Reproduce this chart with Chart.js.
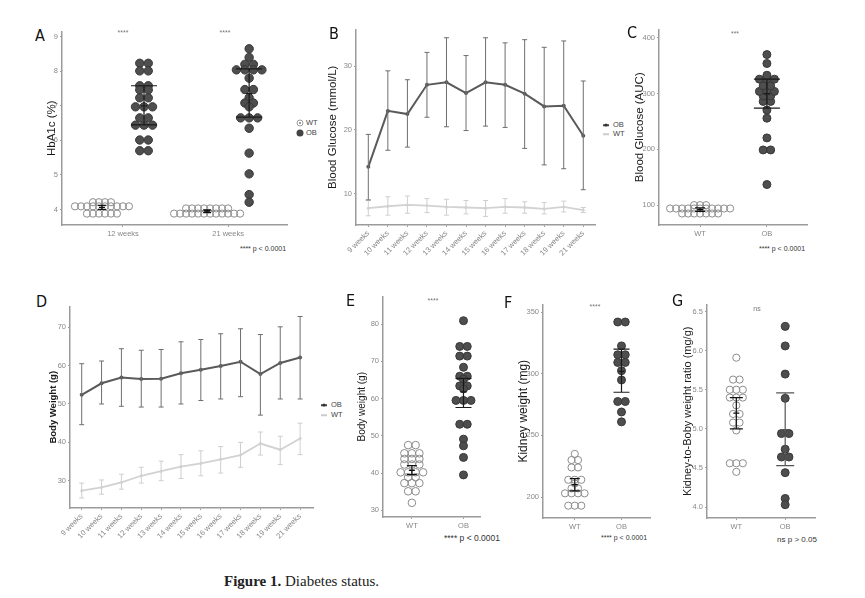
<!DOCTYPE html>
<html>
<head>
<meta charset="utf-8">
<title>Figure 1. Diabetes status</title>
<script src="https://cdn.jsdelivr.net/npm/chart.js@4.4.1/dist/chart.umd.min.js"></script>
<style>
  body { margin: 0; background: #fff; }
  #fig { position: relative; width: 865px; height: 598px; overflow: hidden; background: #fff;
         font-family: "Liberation Sans", Arial, sans-serif; }
  #fig canvas { position: absolute; }
  .txt { position: absolute; white-space: nowrap; line-height: 1; }
  .mid { transform: translate(-50%, -50%); }
  .letter { font-family: "DejaVu Sans Condensed", "DejaVu Sans", sans-serif; font-size: 16px; color: #111; }
  .stars { font-size: 7px; color: #777; }
  .pval { color: #333; }
  .key { font-size: 7.5px; color: #444; transform: translateY(-50%); }
  .sym { position: absolute; transform: translate(-50%, -50%); }
  .caption { font-family: "Liberation Serif", "Times New Roman", serif; font-size: 15px; color: #222; }
</style>
</head>
<body>
<div id="fig">
  <canvas id="cA"></canvas>
  <canvas id="cB"></canvas>
  <canvas id="cC"></canvas>
  <canvas id="cD"></canvas>
  <canvas id="cE"></canvas>
  <canvas id="cF"></canvas>
  <canvas id="cG"></canvas>

  <div class="txt letter" style="left:35px;top:28px">A</div>
  <div class="txt letter" style="left:329px;top:26px">B</div>
  <div class="txt letter" style="left:627px;top:25px">C</div>
  <div class="txt letter" style="left:36px;top:294px">D</div>
  <div class="txt letter" style="left:346px;top:293px">E</div>
  <div class="txt letter" style="left:504px;top:295px">F</div>
  <div class="txt letter" style="left:672px;top:293px">G</div>

  <div class="txt stars mid" style="left:123px;top:32px">****</div>
  <div class="txt stars mid" style="left:225px;top:32px">****</div>
  <div class="txt stars mid" style="left:735px;top:33px">***</div>
  <div class="txt stars mid" style="left:433px;top:300px">****</div>
  <div class="txt stars mid" style="left:595px;top:306px">****</div>
  <div class="txt stars mid" style="left:757px;top:308px">ns</div>

  <div class="txt pval mid" style="left:263px;top:248px;font-size:7px">**** p &lt; 0.0001</div>
  <div class="txt pval mid" style="left:782px;top:248px;font-size:7px">**** p &lt; 0.0001</div>
  <div class="txt pval mid" style="left:472px;top:538px;font-size:8.5px">**** p &lt; 0.0001</div>
  <div class="txt pval mid" style="left:624px;top:537px;font-size:7px">**** p &lt; 0.0001</div>
  <div class="txt pval mid" style="left:797px;top:540px;font-size:8px">ns p &gt; 0.05</div>

  <!-- legend A -->
  <div class="sym" style="left:300px;top:123px;width:5px;height:5px;border:1px solid #999;border-radius:50%;background:radial-gradient(#999 30%, #fff 40%)"></div>
  <div class="txt key" style="left:306px;top:123px">WT</div>
  <div class="sym" style="left:300px;top:133px;width:7px;height:7px;border-radius:50%;background:#444"></div>
  <div class="txt key" style="left:306px;top:133px">OB</div>
  <!-- legend B -->
  <div class="sym" style="left:606px;top:125px;width:6px;height:1.5px;background:#444"></div>
  <div class="sym" style="left:606px;top:125px;width:3px;height:3px;border-radius:50%;background:#333"></div>
  <div class="txt key" style="left:613px;top:125px">OB</div>
  <div class="sym" style="left:606px;top:134px;width:6px;height:1.5px;background:#ccc"></div>
  <div class="txt key" style="left:613px;top:134px">WT</div>
  <!-- legend D -->
  <div class="sym" style="left:324px;top:405px;width:6px;height:1.5px;background:#444"></div>
  <div class="sym" style="left:324px;top:405px;width:3px;height:3px;border-radius:50%;background:#333"></div>
  <div class="txt key" style="left:331px;top:405px">OB</div>
  <div class="sym" style="left:324px;top:415px;width:6px;height:1.5px;background:#ccc"></div>
  <div class="txt key" style="left:331px;top:415px">WT</div>

  <div class="txt caption" style="left:224px;top:574px"><b>Figure 1.</b> Diabetes status.</div>
</div>

<script>
const family = '"Liberation Sans", Arial, sans-serif';
const axisColor = "#9b9b9b";
const tickColor = "#888";
const obFill = "#4e4e4e";
const obEdge = "#383838";
const wtEdge = "#8c8c8c";

// ---------- A: HbA1c ----------
const weeksA = ["12 weeks", "21 weeks"];
const yTicksA = [4, 5, 6, 7, 8, 9];
const hbaWT12 = [4.21, 4.21, 4.21, 4.21, 4.09, 4.09, 4.09, 4.09, 4.09, 4.09, 4.09, 4.09, 4.09, 4.09,
                 3.88, 3.88, 3.88, 3.88, 3.88, 3.88];
const hbaOB12 = [8.23, 8.23, 8.01, 8.01, 7.58, 7.58, 7.46, 7.46, 7.23, 7.23, 6.97, 6.97, 6.97,
                 6.65, 6.65, 6.44, 6.44, 6.44, 6.01, 6.01, 5.70, 5.70];
const hbaWT21 = [4.03, 4.03, 4.03, 4.03, 4.03, 4.03, 4.03, 4.03,
                 3.88, 3.88, 3.88, 3.88, 3.88, 3.88, 3.88, 3.88, 3.88, 3.88, 3.88, 3.88];
const hbaOB21 = [8.65, 8.40, 8.20, 8.20, 8.04, 8.04, 8.04, 8.04, 7.80, 7.47, 7.47, 7.23, 7.08, 7.08,
                 6.97, 6.65, 6.65, 6.65, 6.35, 5.63, 5.03, 4.43, 4.21];
// [mean, low, high] per week
const hbaStatWT = [[4.06, 4.00, 4.12], [3.95, 3.91, 3.99]];
const hbaStatOB = [[7.00, 6.45, 7.58], [7.35, 6.67, 8.07]];

// ---------- B / D: weekly ----------
const weeks = ["9 weeks", "10 weeks", "11 weeks", "12 weeks", "13 weeks", "14 weeks",
               "15 weeks", "16 weeks", "17 weeks", "18 weeks", "19 weeks", "21 weeks"];
const yTicksB = [10, 20, 30];
const gluOB = [14.2, 23.0, 22.5, 27.1, 27.5, 25.8, 27.5, 27.1, 25.7, 23.7, 23.8, 19.1];
const gluOBlo = [9.0, 16.8, 17.3, 22.0, 20.5, 19.9, 20.6, 20.4, 17.1, 14.5, 13.9, 10.6];
const gluOBhi = [19.3, 29.3, 27.9, 32.2, 34.5, 31.7, 34.5, 33.7, 34.2, 33.0, 34.0, 27.7];
const gluWT = [7.7, 8.0, 8.2, 8.1, 7.9, 7.8, 7.7, 7.9, 7.8, 7.6, 7.9, 7.4];
const gluWTlo = [6.5, 6.6, 6.9, 7.0, 6.6, 6.8, 6.4, 6.9, 6.9, 6.8, 7.1, 7.0];
const gluWThi = [8.9, 9.5, 9.6, 9.2, 9.1, 8.9, 8.9, 9.2, 8.7, 8.6, 8.8, 7.8];

const yTicksD = [30, 40, 50, 60, 70];
const bwOB = [52.4, 55.4, 56.9, 56.5, 56.6, 58.0, 58.9, 59.9, 61.0, 57.8, 60.7, 62.1];
const bwOBlo = [44.6, 50.0, 49.4, 49.2, 49.2, 50.0, 50.9, 51.3, 51.9, 47.1, 51.3, 51.3];
const bwOBhi = [60.5, 61.2, 64.4, 64.0, 64.2, 66.2, 66.8, 68.3, 69.6, 68.1, 70.1, 72.8];
const bwWT = [27.4, 28.3, 29.6, 31.3, 32.5, 33.7, 34.5, 35.6, 36.7, 39.7, 38.1, 41.0];
const bwWTlo = [25.5, 26.5, 27.8, 29.4, 30.0, 30.6, 31.3, 32.0, 33.5, 36.7, 34.2, 36.8];
const bwWThi = [29.4, 30.2, 31.7, 33.5, 35.1, 36.8, 37.8, 38.9, 40.0, 42.7, 41.6, 45.0];

// ---------- C: glucose AUC ----------
const groups = ["WT", "OB"];
const yTicksC = [100, 200, 300, 400];
const aucWT = [100, 100, 100, 94, 94, 94, 94, 94, 94, 94, 94, 94, 94, 94, 85, 85, 85, 85, 85, 85, 85];
const aucOB = [370, 354, 333, 326, 326, 326, 314, 314, 304, 304, 304, 296, 296, 286, 286,
               270.5, 256, 220.6, 199, 199, 137];
const aucStat = [[92, 89, 95], [300, 274, 326]];

// ---------- E: body weight ----------
const yTicksE = [30, 40, 50, 60, 70, 80];
const bwtWT = [47.5, 47.5, 45.3, 45.3, 45.3, 43.8, 43.8, 43.8, 42.3, 42.3, 42.3, 40.2, 40.2, 40.2, 40.2,
               38.9, 38.9, 37.3, 37.3, 37.3, 35.1, 35.1, 32.0];
const bwtOB = [80.9, 74.0, 74.0, 71.4, 71.4, 68.4, 66.0, 66.0, 65.2, 63.4, 63.4, 62.6, 59.5, 59.5, 59.5,
               53.1, 53.1, 49.1, 47.3, 44.2, 39.5];
const bwtStat = [[40.7, 39.6, 42.0], [61.8, 57.6, 65.4]];

// ---------- F: kidney weight ----------
const yTicksF = [200, 250, 300, 350];
const kwWT = [235, 230, 230, 224, 224, 214, 214, 214, 211, 207, 207, 203, 203, 203, 203, 193, 193, 193];
const kwOB = [342, 342, 322.6, 315.4, 315.4, 309.2, 309.2, 302.5, 295, 277.5, 277.5, 269, 261];
const kwStat = [[210, 205, 215], [302, 285, 320]];

// ---------- G: kidney / body ratio ----------
const yTicksG = [4.0, 4.5, 5.0, 5.5, 6.0, 6.5];
const ratioWT = [5.91, 5.63, 5.63, 5.50, 5.50, 5.50, 5.40, 5.40, 5.40, 5.30, 5.19, 5.19, 5.08, 5.08,
                 4.98, 4.56, 4.56, 4.56, 4.45];
const ratioOB = [6.31, 6.06, 5.70, 5.39, 4.94, 4.94, 4.74, 4.64, 4.64, 4.44, 4.11, 4.03];
const ratioStat = [[5.2, 5.0, 5.4], [4.99, 4.53, 5.46]];

// ---------- helpers ----------
function errBars(bars) {
  return {
    id: "errbars",
    afterDatasetsDraw(chart) {
      const ctx = chart.ctx;
      const x = chart.scales.x;
      const y = chart.scales.y;
      bars.forEach((b) => {
        const px = x.getPixelForValue(b.x);
        const lo = y.getPixelForValue(b.lo);
        const hi = y.getPixelForValue(b.hi);
        const m = y.getPixelForValue(b.mean);
        ctx.save();
        ctx.strokeStyle = b.color;
        ctx.lineWidth = b.width;
        ctx.beginPath();
        ctx.moveTo(px, lo);
        ctx.lineTo(px, hi);
        ctx.moveTo(px - b.cap, lo);
        ctx.lineTo(px + b.cap, lo);
        ctx.moveTo(px - b.cap, hi);
        ctx.lineTo(px + b.cap, hi);
        if (b.mid) {
          ctx.moveTo(px - b.mid, m);
          ctx.lineTo(px + b.mid, m);
        }
        ctx.stroke();
        ctx.restore();
      });
    },
  };
}

// simple dot-plot layout: equal values side by side around the group centre
function swarm(vals, cx, g, stepPx) {
  const step = (stepPx * (g.xmax - g.xmin)) / (g.right - g.left);
  const rows = {};
  vals.forEach((v) => {
    if (!rows[v]) rows[v] = [];
    rows[v].push(v);
  });
  const pts = [];
  Object.keys(rows).forEach((k) => {
    const n = rows[k].length;
    rows[k].forEach((v, i) => pts.push({ x: cx + (i - (n - 1) / 2) * step, y: v }));
  });
  return pts;
}

function wtSet(pts, r) {
  return { data: pts, pointRadius: r, pointBackgroundColor: "rgba(255,255,255,0)",
           pointBorderColor: wtEdge, pointBorderWidth: 1 };
}
function obSet(pts, r) {
  return { data: pts, pointRadius: r, pointBackgroundColor: obFill,
           pointBorderColor: obEdge, pointBorderWidth: 1 };
}

function buildChart(g, datasets, bars, xLabels, xPos, yTicks, yLabels, title, rot) {
  const el = document.getElementById(g.id);
  el.width = g.w;
  el.height = g.h;
  el.style.left = g.x + "px";
  el.style.top = g.y + "px";
  return new Chart(el, {
    type: "scatter",
    data: { datasets: datasets },
    options: {
      responsive: false,
      animation: false,
      devicePixelRatio: 1,
      layout: { padding: { top: g.top - g.y, right: g.x + g.w - g.right, left: 0, bottom: 0 } },
      plugins: { legend: { display: false }, tooltip: { enabled: false } },
      scales: {
        x: {
          type: "linear",
          min: g.xmin,
          max: g.xmax,
          afterFit: (s) => { s.height = g.y + g.h - g.bottom; },
          afterBuildTicks: (s) => { s.ticks = xPos.map((v) => ({ value: v })); },
          ticks: {
            autoSkip: false, color: tickColor, padding: 2,
            font: { family: family, size: 7.5 },
            minRotation: rot, maxRotation: rot,
            callback: (v, i) => xLabels[i],
          },
          grid: { display: true, drawOnChartArea: false, drawTicks: true, tickLength: 2, color: axisColor },
          border: { display: true, color: axisColor, width: 1.5 },
        },
        y: {
          type: "linear",
          min: g.ymin,
          max: g.ymax,
          afterFit: (s) => { s.width = g.left - g.x; },
          afterBuildTicks: (s) => { s.ticks = yTicks.map((v) => ({ value: v })); },
          ticks: {
            color: tickColor, padding: 2,
            font: { family: family, size: 7.5 },
            callback: (v, i) => yLabels[i],
          },
          grid: { display: true, drawOnChartArea: false, drawTicks: true, tickLength: 2, color: axisColor },
          border: { display: true, color: axisColor, width: 1.5 },
          title: {
            display: true, text: title.text, color: "#1a1a1a",
            padding: { top: 0, bottom: 0 },
            font: { family: family, size: title.size, weight: title.weight || "normal", lineHeight: 1.2 },
          },
        },
      },
    },
    plugins: [errBars(bars)],
  });
}

function dotBars(stats, cx, capOB, capWT, colorOB) {
  return [
    { x: cx[0], mean: stats[0][0], lo: stats[0][1], hi: stats[0][2], cap: capWT, mid: 3, color: "#111", width: 1.2 },
    { x: cx[1], mean: stats[1][0], lo: stats[1][1], hi: stats[1][2], cap: capOB, mid: 3, color: colorOB || "#1a1a1a", width: 1.2 },
  ];
}

function lineBars(lo, hi, mean, color) {
  return mean.map((m, i) => ({ x: i, mean: m, lo: lo[i], hi: hi[i], cap: 2.5, mid: 0, color: color, width: 1 }));
}

function lineSet(vals, color, width, r) {
  return { data: vals.map((v, i) => ({ x: i, y: v })), showLine: true, borderColor: color,
           borderWidth: width, pointRadius: r, pointBackgroundColor: color, pointBorderWidth: 0, tension: 0 };
}

// ---------- panel A ----------
const gA = { id: "cA", x: 45, y: 25, w: 250, h: 215, left: 62, top: 30, right: 287, bottom: 225,
             xmin: 0.42, xmax: 2.56, ymin: 3.55, ymax: 9.15 };
buildChart(gA,
  [wtSet(swarm(hbaWT12, 0.8, gA, 6), 3.6), wtSet(swarm(hbaWT21, 1.8, gA, 6), 3.6),
   obSet(swarm(hbaOB12, 1.2, gA, 8.5), 4.2), obSet(swarm(hbaOB21, 2.2, gA, 8.5), 4.2)],
  [
    { x: 0.8, mean: hbaStatWT[0][0], lo: hbaStatWT[0][1], hi: hbaStatWT[0][2], cap: 4, mid: 3, color: "#111", width: 1.2 },
    { x: 1.8, mean: hbaStatWT[1][0], lo: hbaStatWT[1][1], hi: hbaStatWT[1][2], cap: 4, mid: 3, color: "#111", width: 1.2 },
    { x: 1.2, mean: hbaStatOB[0][0], lo: hbaStatOB[0][1], hi: hbaStatOB[0][2], cap: 13, mid: 3, color: "#1a1a1a", width: 1.2 },
    { x: 2.2, mean: hbaStatOB[1][0], lo: hbaStatOB[1][1], hi: hbaStatOB[1][2], cap: 13, mid: 3, color: "#1a1a1a", width: 1.2 },
  ],
  weeksA, [1, 2], yTicksA, yTicksA.map(String), { text: "HbA1c (%)", size: 11.5 }, 0);

// ---------- panel B ----------
const gB = { id: "cB", x: 326, y: 23, w: 275, h: 247, left: 356, top: 28, right: 595, bottom: 225,
             xmin: -0.63, xmax: 11.6, ymin: 5.05, ymax: 35.8 };
buildChart(gB,
  [lineSet(gluWT, "#d2d2d2", 1.8, 1.5), lineSet(gluOB, "#5a5a5a", 2, 2)],
  lineBars(gluWTlo, gluWThi, gluWT, "#cfcfcf").concat(lineBars(gluOBlo, gluOBhi, gluOB, "#6e6e6e")),
  weeks, weeks.map((w, i) => i), yTicksB, yTicksB.map(String),
  { text: "Blood Glucose (mmol/L)", size: 11.5 }, 45);

// ---------- panel C ----------
const gC = { id: "cC", x: 633, y: 23, w: 180, h: 217, left: 659, top: 28, right: 807, bottom: 225,
             xmin: 0.385, xmax: 2.6, ymin: 64.4, ymax: 415 };
buildChart(gC,
  [wtSet(swarm(aucWT, 1, gC, 6), 3.6), obSet(swarm(aucOB, 2, gC, 7.5), 4)],
  dotBars(aucStat, [1, 2], 13, 5),
  groups, [1, 2], yTicksC, yTicksC.map(String), { text: "Blood Glucose (AUC)", size: 11.5 }, 0);

// ---------- panel D ----------
const gD = { id: "cD", x: 48, y: 300, w: 270, h: 252, left: 70, top: 305, right: 313, bottom: 508,
             xmin: -0.59, xmax: 11.65, ymin: 22.9, ymax: 75.4 };
buildChart(gD,
  [lineSet(bwWT, "#d2d2d2", 1.8, 1.5), lineSet(bwOB, "#5a5a5a", 2, 2)],
  lineBars(bwWTlo, bwWThi, bwWT, "#cfcfcf").concat(lineBars(bwOBlo, bwOBhi, bwOB, "#6e6e6e")),
  weeks, weeks.map((w, i) => i), yTicksD, yTicksD.map(String),
  { text: "Body Weight (g)", size: 9.5, weight: "bold" }, 45);

// ---------- panel E ----------
const gE = { id: "cE", x: 356, y: 290, w: 129, h: 242, left: 383, top: 295, right: 480, bottom: 517,
             xmin: 0.44, xmax: 2.32, ymin: 28.2, ymax: 87.4 };
buildChart(gE,
  [wtSet(swarm(bwtWT, 1, gE, 7.5), 3.8), obSet(swarm(bwtOB, 2, gE, 7.5), 4)],
  dotBars(bwtStat, [1, 2], 8, 5),
  groups, [1, 2], yTicksE, yTicksE.map(String), { text: "Body weight (g)", size: 10 }, 0);

// ---------- panel F ----------
const gF = { id: "cF", x: 516, y: 298, w: 139, h: 235, left: 543, top: 303, right: 650, bottom: 518,
             xmin: 0.32, xmax: 2.61, ymin: 183, ymax: 356.2 };
buildChart(gF,
  [wtSet(swarm(kwWT, 1, gF, 6.5), 3.6), obSet(swarm(kwOB, 2, gF, 7.5), 4)],
  dotBars(kwStat, [1, 2], 8, 5),
  groups, [1, 2], yTicksF, yTicksF.map(String), { text: "Kidney weight (mg)", size: 12 }, 0);

// ---------- panel G ----------
const gG = { id: "cG", x: 681, y: 298, w: 139, h: 235, left: 707, top: 303, right: 815, bottom: 518,
             xmin: 0.40, xmax: 2.61, ymin: 3.86, ymax: 6.59 };
buildChart(gG,
  [wtSet(swarm(ratioWT, 1, gG, 6.5), 3.6), obSet(swarm(ratioOB, 2, gG, 7.5), 4)],
  dotBars(ratioStat, [1, 2], 9, 6.5, "#555"),
  groups, [1, 2], yTicksG, yTicksG.map((v) => v.toFixed(1)),
  { text: "Kidney-to-Boby weight ratio (mg/g)", size: 11 }, 0);
</script>
</body>
</html>
